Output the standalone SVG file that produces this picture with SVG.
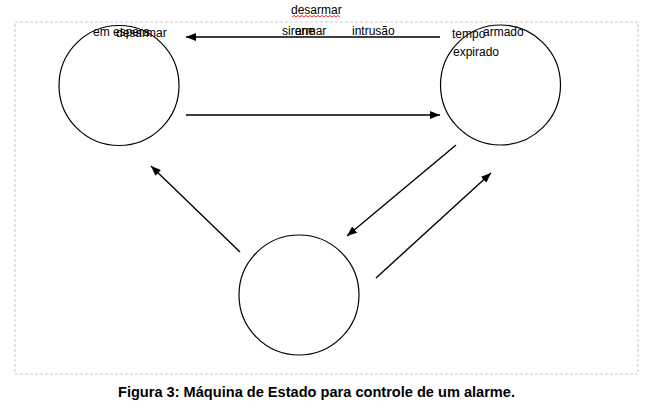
<svg xmlns="http://www.w3.org/2000/svg" width="659" height="419" viewBox="0 0 659 419">
<style>
.st{fill:#fff;stroke:#000;stroke-width:1.2}
.ed{stroke:#000;stroke-width:1.4;fill:none;marker-end:url(#ah)}
.lb{font-family:"Liberation Sans",Arial,sans-serif;font-size:12px;fill:#000}
.cap{font-family:"Liberation Sans",Arial,sans-serif;font-size:14.7px;font-weight:bold;fill:#000}
</style>
<defs>
<marker id="ah" viewBox="0 0 10 8" refX="10" refY="4" markerWidth="10" markerHeight="8" markerUnits="userSpaceOnUse" orient="auto">
<path d="M0,0 L10,4 L0,8 Z" fill="#000"/>
</marker>
</defs>
<rect width="659" height="419" fill="#fff"/>
<rect x="15" y="22" width="623" height="352" fill="none" stroke="#c8c8c8" stroke-width="1" stroke-dasharray="3,2"/>
<g id="nodes">
<g id="em-espera"><ellipse class="st" cx="119" cy="85.5" rx="60" ry="60"/></g>
<g id="armado"><ellipse class="st" cx="500.5" cy="85" rx="60" ry="60"/></g>
<g id="sirene"><ellipse class="st" cx="299" cy="295" rx="60" ry="60"/></g>
</g>
<g id="connectors">
<line class="ed" x1="440" y1="37" x2="186" y2="37"/>
<line class="ed" x1="186" y1="115" x2="440" y2="115"/>
<line class="ed" x1="240" y1="252" x2="151" y2="166"/>
<line class="ed" x1="456" y1="145" x2="347" y2="236"/>
<line class="ed" x1="376" y1="278" x2="491" y2="173"/>
</g>
<g id="labels">
<text class="lb" x="291" y="14">desarmar</text>
<path d="M292,17 l2,-1.5 l2,1.5 l2,-1.5 l2,1.5 l2,-1.5 l2,1.5 l2,-1.5 l2,1.5 l2,-1.5 l2,1.5 l2,-1.5 l2,1.5 l2,-1.5 l2,1.5 l2,-1.5 l2,1.5 l2,-1.5 l2,1.5 l2,-1.5 l2,1.5 l2,-1.5 l2,1.5 l2,-1.5 l2,1.5" fill="none" stroke="#e00000" stroke-width="0.8"/>
<text class="lb" x="93" y="36">em espera</text>
<text class="lb" x="116" y="37">desarmar</text>
<text class="lb" x="282" y="35">sirene</text>
<text class="lb" x="295" y="35">armar</text>
<text class="lb" x="352" y="35">intrusão</text>
<text class="lb" x="452" y="38">tempo</text>
<text class="lb" x="453" y="56">expirado</text>
<text class="lb" x="483" y="36">armado</text>
</g>
<text class="cap" x="118" y="397" textLength="397" lengthAdjust="spacingAndGlyphs">Figura 3: Máquina de Estado para controle de um alarme.</text>
</svg>
